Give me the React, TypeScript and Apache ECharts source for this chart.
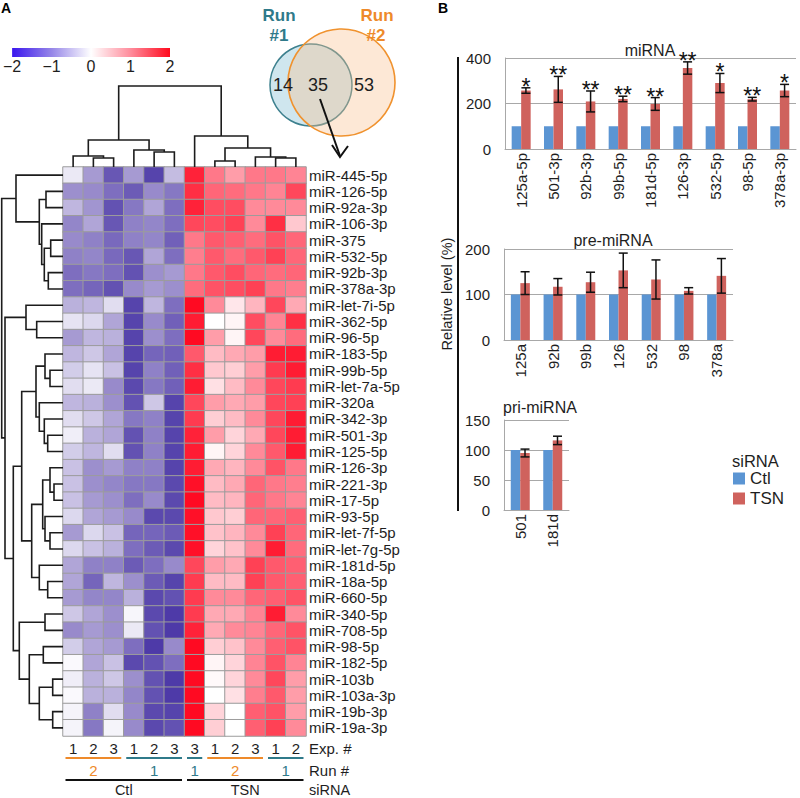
import React, { useEffect, useRef } from 'react';
import * as echarts from 'echarts';

// ---------------- Panel A data ----------------
const rowNames = [
  'miR-445-5p', 'miR-126-5p', 'miR-92a-3p', 'miR-106-3p', 'miR-375', 'miR-532-5p', 'miR-92b-3p',
  'miR-378a-3p', 'miR-let-7i-5p', 'miR-362-5p', 'miR-96-5p', 'miR-183-5p', 'miR-99b-5p',
  'miR-let-7a-5p', 'miR-320a', 'miR-342-3p', 'miR-501-3p', 'miR-125-5p', 'miR-126-3p',
  'miR-221-3p', 'miR-17-5p', 'miR-93-5p', 'miR-let-7f-5p', 'miR-let-7g-5p', 'miR-181d-5p',
  'miR-18a-5p', 'miR-660-5p', 'miR-340-5p', 'miR-708-5p', 'miR-98-5p', 'miR-182-5p',
  'miR-103b', 'miR-103a-3p', 'miR-19b-3p', 'miR-19a-3p',
];
const expLabels = ['1', '2', '3', '1', '2', '3', '3', '1', '2', '3', '1', '2'];

const heatValues: number[][] = [
  [-0.2, -0.9, -1.6, -0.9, -1.8, -0.6, 1.8, 1.1, 0.8, 1.1, 1.1, 1.0],
  [-1.0, -1.05, -1.35, -1.55, -1.05, -1.25, 1.7, 1.25, 1.2, 1.1, 1.0, 1.5],
  [-0.65, -0.95, -1.65, -1.25, -0.8, -1.35, 1.8, 1.45, 1.45, 0.95, 0.95, 0.95],
  [-1.1, -0.8, -1.6, -1.15, -1.1, -1.35, 1.5, 1.45, 1.55, 0.95, 1.7, 0.45],
  [-1.05, -1.15, -1.4, -1.15, -1.1, -1.5, 1.1, 1.35, 1.3, 1.2, 1.4, 1.25],
  [-1.15, -1.1, -1.4, -1.6, -0.8, -1.35, 1.05, 1.35, 1.2, 1.35, 1.55, 1.25],
  [-1.35, -1.25, -1.35, -1.65, -1.0, -0.9, 1.1, 1.35, 1.45, 1.25, 1.2, 1.25],
  [-1.35, -1.45, -1.65, -1.05, -0.9, -1.0, 1.2, 1.4, 1.45, 1.55, 1.1, 1.05],
  [-0.7, -0.65, -0.3, -1.8, -0.65, -1.35, 2.0, 0.95, 0.2, 0.6, 1.5, 0.7],
  [-0.25, -0.35, -0.8, -1.8, -1.05, -1.5, 1.85, 0.0, 0.08, 1.45, 1.0, 1.7],
  [-0.9, -0.65, -0.7, -1.8, -1.0, -1.35, 2.0, 0.8, 0.08, 1.5, 0.95, 1.2],
  [-0.65, -0.5, -0.8, -1.8, -1.45, -1.5, 1.35, 0.55, 0.7, 0.8, 1.85, 1.85],
  [-0.45, -0.25, -0.55, -1.8, -1.15, -1.5, 1.7, 0.45, 0.4, 0.8, 1.6, 1.85],
  [-0.3, -0.2, -1.05, -1.75, -1.25, -1.5, 1.85, 0.25, 0.55, 0.95, 1.5, 1.6],
  [-0.65, -0.7, -1.0, -1.65, -0.5, -1.8, 1.5, 0.8, 0.7, 0.8, 1.5, 1.55],
  [-0.3, -0.5, -0.8, -1.25, -1.15, -1.8, 1.6, 0.4, 0.55, 0.95, 1.5, 1.85],
  [-0.15, -0.7, -0.8, -1.65, -1.15, -1.8, 1.8, 0.8, 0.35, 0.7, 1.5, 1.85],
  [-0.45, -0.65, -0.3, -1.65, -1.15, -1.8, 1.85, 0.08, 0.35, 0.95, 1.35, 1.85],
  [-0.55, -1.0, -0.9, -1.15, -1.15, -1.8, 1.85, 0.7, 0.6, 0.95, 1.4, 1.1],
  [-0.55, -1.0, -1.1, -1.25, -1.25, -1.75, 1.95, 0.55, 0.7, 1.25, 1.1, 1.05],
  [-0.55, -0.9, -1.0, -1.35, -1.05, -1.75, 2.0, 0.55, 0.6, 1.25, 1.1, 1.0],
  [-0.35, -0.8, -0.9, -1.05, -1.75, -1.75, 1.95, 0.45, 0.4, 1.25, 1.25, 1.3],
  [-0.9, -0.35, -0.55, -1.45, -1.45, -1.55, 1.95, 0.5, 0.6, 0.95, 1.55, 1.25],
  [-0.35, -0.55, -0.7, -1.35, -1.55, -1.75, 1.95, 0.35, 0.5, 0.95, 1.85, 1.2],
  [-0.8, -1.15, -1.15, -1.55, -1.35, -1.05, 1.5, 0.8, 0.7, 1.55, 1.35, 1.3],
  [-0.8, -1.45, -0.65, -1.0, -1.55, -1.8, 1.6, 0.55, 0.55, 1.55, 1.35, 1.3],
  [-0.9, -1.1, -1.1, -0.7, -1.75, -1.65, 1.6, 0.95, 0.95, 1.25, 1.3, 1.4],
  [-0.5, -0.8, -1.0, -0.08, -1.75, -1.9, 1.6, 0.7, 0.7, 1.0, 1.85, 0.95],
  [-1.05, -0.9, -1.0, -0.2, -1.65, -1.9, 1.8, 0.7, 0.95, 1.0, 1.25, 1.4],
  [-0.45, -0.8, -0.9, -1.35, -1.9, -1.05, 2.0, 0.4, 0.5, 0.95, 1.3, 1.4],
  [-0.05, -0.8, -0.55, -1.75, -1.65, -1.35, 2.0, 0.08, 0.35, 1.0, 1.4, 1.0],
  [-0.15, -0.7, -0.5, -1.0, -1.65, -1.9, 2.0, 0.05, 0.35, 0.95, 1.5, 0.8],
  [-0.05, -0.7, -0.7, -1.1, -1.65, -1.9, 2.0, 0.0, 0.25, 1.05, 1.35, 0.8],
  [-0.1, -1.15, -0.3, -1.05, -1.75, -1.8, 2.0, 0.35, 0.0, 1.3, 1.4, 0.8],
  [-0.1, -1.25, -0.1, -1.05, -1.75, -1.65, 2.0, 0.4, 0.0, 1.3, 1.55, 0.95],
];

// linkage: [childA, childB, height]; leaves 0..n-1, merged node k -> n+k
const colLinkage = [
  [1, 2, 0.9], [0, 12, 1.1], [4, 5, 1.5], [3, 14, 1.7], [13, 15, 2.7],
  [7, 8, 0.6], [10, 11, 0.9], [9, 18, 1.0], [17, 19, 1.9], [6, 20, 3.1], [16, 21, 8.1],
];
const rowLinkage = [
  [1, 2, 1.7], [4, 5, 1.23], [6, 7, 1.47], [36, 37, 1.87], [3, 38, 2.13], [35, 39, 2.37],
  [0, 40, 4.7], [9, 10, 2.63], [8, 42, 3.7], [12, 13, 1.3], [11, 44, 1.8], [16, 17, 1.53],
  [15, 46, 1.87], [14, 47, 2.37], [45, 48, 2.7], [19, 20, 0.9], [18, 50, 1.3], [22, 23, 1.3],
  [21, 52, 1.8], [51, 53, 2.03], [25, 26, 1.53], [24, 55, 2.37], [54, 56, 3.13], [49, 57, 4.13],
  [27, 28, 1.8], [29, 30, 1.97], [31, 32, 1.03], [33, 34, 1.03], [61, 62, 2.37], [60, 63, 3.37],
  [59, 64, 4.37], [58, 65, 4.97], [43, 66, 5.8], [41, 67, 6.13],
];

const heatColors = ['#4531a4', '#9c8fcd', '#ffffff', '#ff8494', '#ff0a22'];
const colorBarColors = ['#3a16ee', '#9686e8', '#ffffff', '#ff8c9c', '#ff0a1e'];
const colorBarTicks = [-2, -1, 0, 1, 2];

const runGroups = [[0, 2, 2], [3, 5, 1], [6, 6, 1], [7, 9, 2], [10, 11, 1]];
const sirnaNames = ['Ctl', 'TSN'];
const sirnaGroups = [[0, 5, 0], [6, 11, 1]];

const vennCounts = [14, 35, 53];

// ---------------- Panel B data ----------------
const miCats = ['125a-5p', '501-3p', '92b-3p', '99b-5p', '181d-5p', '126-3p', '532-5p', '98-5p', '378a-3p'];
const miCtl = [100, 100, 100, 100, 100, 100, 100, 100, 100];
const miTsn = [257, 262, 209, 220, 198, 356, 290, 219, 257];
const miErr = [12, 57, 46, 12, 28, 27, 42, 8, 27];
const miSig = ['*', '**', '**', '**', '**', '**', '*', '**', '*'];

const preCats = ['125a', '92b', '99b', '126', '532', '98', '378a'];
const preCtl = [100, 100, 100, 100, 100, 100, 100];
const preTsn = [125, 117, 127, 153, 133, 108, 141];
const preErr = [25, 18, 22, 38, 43, 7, 38];

const priCats = ['501', '181d'];
const priCtl = [100, 100];
const priTsn = [95, 116];
const priErr = [6.5, 7];

// ---------------- styles ----------------
const FONT = '"Liberation Sans", Arial, Helvetica, sans-serif';
const TEAL = '#2f7a8a';
const ORANGE = '#ee8a2a';
const CTL_COLOR = '#5b95d3';
const TSN_COLOR = '#cf625d';
const GRID_GRAY = '#a8a8a8';
const BAR_W = 9.5;
const TXT = '#1e1e1e';

function buildSegments(linkage: number[][], n: number) {
  const pos: number[] = [];
  const ht: number[] = [];
  for (let i = 0; i < n; i++) { pos.push(i + 0.5); ht.push(0); }
  const segs: number[][] = [];
  linkage.forEach(([a, b, h]) => {
    segs.push([pos[a], ht[a], pos[b], ht[b], h]);
    pos.push((pos[a] + pos[b]) / 2);
    ht.push(h);
  });
  return segs;
}

export default function App() {
  const ref = useRef<HTMLDivElement>(null);

  useEffect(() => {
    if (!ref.current) return;
    const chart = echarts.init(ref.current, null, { renderer: 'svg' });

    const heatData: number[][] = [];
    heatValues.forEach((row, r) => row.forEach((v, c) => heatData.push([c, r, v])));
    const colSegs = buildSegments(colLinkage, expLabels.length);
    const rowSegs = buildSegments(rowLinkage, rowNames.length);
    const nRows = rowNames.length;

    const dendroStyle = { stroke: '#1c1c1c', lineWidth: 1.6, fill: 'none' };

    const groupRender = (kind: 'run' | 'sirna') => (params: any, api: any) => {
      const from = api.value(0);
      const to = api.value(1);
      const k = api.value(2);
      const size = api.size([1, 1]);
      const w = size[0];
      const h = size[1];
      const x0 = api.coord([from, 0])[0] - w / 2 + 2.5;
      const x1 = api.coord([to, 0])[0] + w / 2 - 2.5;
      const yb = api.coord([0, nRows - 1])[1] + h / 2;
      const color = kind === 'run' ? (k === 1 ? TEAL : ORANGE) : '#111';
      const lineY = kind === 'run' ? yb + 22 : yb + 44;
      const textY = kind === 'run' ? yb + 34 : yb + 54;
      const text = kind === 'run' ? String(k) : sirnaNames[k];
      return {
        type: 'group',
        children: [
          { type: 'line', shape: { x1: x0, y1: lineY, x2: x1, y2: lineY }, style: { stroke: color, lineWidth: 2 } },
          {
            type: 'text',
            style: {
              text, x: (x0 + x1) / 2, y: textY, align: 'center', verticalAlign: 'middle',
              textAlign: 'center', textVerticalAlign: 'middle', fill: kind === 'run' ? color : TXT,
              font: `${kind === 'run' ? 15 : 14.5}px ${FONT}`,
            },
          },
        ],
      };
    };

    const errRender = (stars: string[] | null) => (params: any, api: any) => {
      const i = api.value(0);
      const m = api.value(1);
      const e = api.value(2);
      const xc = api.coord([i, m])[0] + BAR_W / 2;
      const yt = api.coord([i, m + e])[1];
      const yb = api.coord([i, m - e])[1];
      const st = { stroke: '#111', lineWidth: 1.5 };
      const children: any[] = [
        { type: 'line', shape: { x1: xc, y1: yt, x2: xc, y2: yb }, style: st },
        { type: 'line', shape: { x1: xc - 4.5, y1: yt, x2: xc + 4.5, y2: yt }, style: st },
        { type: 'line', shape: { x1: xc - 4.5, y1: yb, x2: xc + 4.5, y2: yb }, style: st },
      ];
      if (stars) {
        children.push({
          type: 'text',
          style: {
            text: stars[params.dataIndex], x: xc, y: yt - 1, align: 'center', verticalAlign: 'middle',
            textAlign: 'center', textVerticalAlign: 'middle', fill: '#111', font: `23px ${FONT}`,
          },
        });
      }
      return { type: 'group', children };
    };

    const barX = (cats: string[], idx: number) => ({
      type: 'category', gridIndex: idx, data: cats,
      axisLine: { show: true, lineStyle: { color: GRID_GRAY, width: 1 } },
      axisTick: { show: false },
      axisLabel: { rotate: 90, fontSize: 15, color: TXT, margin: 4, interval: 0, fontFamily: FONT },
    });
    const barY = (idx: number, max: number, interval: number) => ({
      type: 'value', gridIndex: idx, min: 0, max, interval,
      axisLine: { show: true, lineStyle: { color: GRID_GRAY, width: 1 } },
      axisTick: { show: false },
      splitLine: { show: true, lineStyle: { color: GRID_GRAY, width: 1 } },
      axisLabel: { fontSize: 15, color: TXT, margin: 14, fontFamily: FONT },
    });
    const barSeries = (idx: number, ctl: number[], tsn: number[], err: number[], stars: string[] | null) => [
      { type: 'bar', name: 'Ctl', xAxisIndex: idx, yAxisIndex: idx, data: ctl, barWidth: BAR_W, barGap: '0%', itemStyle: { color: CTL_COLOR } },
      { type: 'bar', name: 'TSN', xAxisIndex: idx, yAxisIndex: idx, data: tsn, barWidth: BAR_W, barGap: '0%', itemStyle: { color: TSN_COLOR } },
      {
        type: 'custom', xAxisIndex: idx, yAxisIndex: idx, z: 10, clip: false,
        data: tsn.map((v, i) => [i, v, err[i]]), renderItem: errRender(stars),
      },
    ];

    const hidden = { show: false };
    const txt = (text: string, x: number, y: number, size: number, fill = TXT, weight = 'normal', align = 'center') => ({
      type: 'text',
      style: {
        text, x, y, fill, font: `${weight} ${size}px ${FONT}`,
        align, verticalAlign: 'middle', textAlign: align, textVerticalAlign: 'middle',
      },
    });

    const option: any = {
      animation: false,
      textStyle: { fontFamily: FONT },
      grid: [
        { left: 63, top: 167, width: 243, height: 569 },
        { left: 63, top: 86, width: 243, height: 81 },
        { left: 0, top: 167, width: 63, height: 569 },
        { left: 8, top: 48, width: 162, height: 9 },
        { left: 505, top: 58, width: 291, height: 91 },
        { left: 504, top: 249, width: 229, height: 91 },
        { left: 504, top: 420, width: 65, height: 90 },
      ],
      xAxis: [
        {
          type: 'category', gridIndex: 0, data: expLabels.map((_, i) => 'c' + i),
          axisLine: hidden, axisTick: hidden, splitLine: hidden,
          axisLabel: { interval: 0, fontSize: 15, color: TXT, margin: 5, formatter: (_v: string, i: number) => expLabels[i] },
        },
        { type: 'value', gridIndex: 1, min: 0, max: expLabels.length, show: false },
        { type: 'value', gridIndex: 2, min: 0, max: 6.3, inverse: true, show: false },
        {
          type: 'value', gridIndex: 3, min: colorBarTicks[0], max: colorBarTicks[colorBarTicks.length - 1], interval: 1,
          axisLine: hidden, axisTick: hidden, splitLine: hidden,
          axisLabel: { fontSize: 16, color: TXT, margin: 1, formatter: (v: number) => String(v).replace('-', '\u2212') },
        },
        barX(miCats, 4),
        barX(preCats, 5),
        barX(priCats, 6),
      ],
      yAxis: [
        {
          type: 'category', gridIndex: 0, data: rowNames, inverse: true, position: 'right',
          axisLine: hidden, axisTick: hidden, splitLine: hidden,
          axisLabel: { interval: 0, fontSize: 15, color: TXT, margin: 3 },
        },
        { type: 'value', gridIndex: 1, min: 0, max: 8.1, show: false },
        { type: 'value', gridIndex: 2, min: 0, max: nRows, inverse: true, show: false },
        { type: 'value', gridIndex: 3, min: 0, max: 1, show: false },
        barY(4, 400, 200),
        barY(5, 200, 100),
        barY(6, 150, 50),
      ],
      visualMap: [
        { type: 'continuous', min: -2, max: 2, seriesIndex: 0, show: false, inRange: { color: heatColors } },
      ],
      legend: {
        data: ['Ctl', 'TSN'], orient: 'vertical', left: 733, top: 470, padding: 0,
        itemWidth: 12, itemHeight: 12, itemGap: 3, icon: 'rect',
        textStyle: { fontSize: 17, color: TXT, fontFamily: FONT },
        selectedMode: false,
      },
      series: [
        {
          type: 'heatmap', xAxisIndex: 0, yAxisIndex: 0, data: heatData,
          itemStyle: { borderColor: '#9c9c9c', borderWidth: 1 },
          emphasis: { disabled: true }, progressive: 0,
        },
        {
          type: 'custom', xAxisIndex: 1, yAxisIndex: 1, data: colSegs, clip: false,
          renderItem: (_p: any, api: any) => {
            const pa = api.value(0), ha = api.value(1), pb = api.value(2), hb = api.value(3), h = api.value(4);
            return {
              type: 'polyline',
              shape: { points: [api.coord([pa, ha]), api.coord([pa, h]), api.coord([pb, h]), api.coord([pb, hb])] },
              style: dendroStyle,
            };
          },
        },
        {
          type: 'custom', xAxisIndex: 2, yAxisIndex: 2, data: rowSegs, clip: false,
          renderItem: (_p: any, api: any) => {
            const pa = api.value(0), ha = api.value(1), pb = api.value(2), hb = api.value(3), h = api.value(4);
            return {
              type: 'polyline',
              shape: { points: [api.coord([ha, pa]), api.coord([h, pa]), api.coord([h, pb]), api.coord([hb, pb])] },
              style: dendroStyle,
            };
          },
        },
        {
          type: 'custom', xAxisIndex: 3, yAxisIndex: 3,
          data: [[colorBarTicks[0], 0, colorBarTicks[colorBarTicks.length - 1], 1]],
          renderItem: (_p: any, api: any) => {
            const p0 = api.coord([api.value(0), api.value(1)]);
            const p1 = api.coord([api.value(2), api.value(3)]);
            return {
              type: 'rect',
              shape: { x: p0[0], y: p1[1], width: p1[0] - p0[0], height: p0[1] - p1[1] },
              style: {
                fill: new echarts.graphic.LinearGradient(0, 0, 1, 0,
                  colorBarColors.map((c, i) => ({ offset: i / (colorBarColors.length - 1), color: c }))),
              },
            };
          },
        },
        { type: 'custom', xAxisIndex: 0, yAxisIndex: 0, data: runGroups, clip: false, renderItem: groupRender('run') },
        { type: 'custom', xAxisIndex: 0, yAxisIndex: 0, data: sirnaGroups, clip: false, renderItem: groupRender('sirna') },
        ...barSeries(4, miCtl, miTsn, miErr, miSig),
        ...barSeries(5, preCtl, preTsn, preErr, null),
        ...barSeries(6, priCtl, priTsn, priErr, null),
      ],
      graphic: [
        txt('A', 1, 8, 14, '#000', 'bold', 'left'),
        txt('B', 438, 8, 14, '#000', 'bold', 'left'),
        // Venn diagram
        { type: 'circle', shape: { cx: 311, cy: 85, r: 41 }, style: { fill: '#cfe6ee', stroke: '#3d808e', lineWidth: 1.5 } },
        { type: 'circle', shape: { cx: 341.5, cy: 82.5, r: 53.5 }, style: { fill: 'rgba(250,190,140,0.36)', stroke: '#f0922e', lineWidth: 1.6 } },
        txt('Run', 279, 15, 17, TEAL, 'bold'),
        txt('#1', 279, 35, 17, TEAL, 'bold'),
        txt('Run', 377, 15, 17, ORANGE, 'bold'),
        txt('#2', 376, 35, 17, ORANGE, 'bold'),
        txt(String(vennCounts[0]), 283, 85, 18),
        txt(String(vennCounts[1]), 318, 85, 18),
        txt(String(vennCounts[2]), 364, 85, 18),
        { type: 'line', shape: { x1: 320, y1: 99, x2: 340, y2: 156 }, style: { stroke: '#111', lineWidth: 2 } },
        { type: 'polyline', shape: { points: [[332, 145], [340, 157], [348, 146]] }, style: { stroke: '#111', lineWidth: 2, fill: 'none' } },
        // heatmap annotation labels
        txt('Exp. #', 309, 748, 15, TXT, 'normal', 'left'),
        txt('Run #', 309, 770, 15, TXT, 'normal', 'left'),
        txt('siRNA', 309, 790, 14.5, TXT, 'normal', 'left'),
        // panel B
        txt('miRNA', 650, 50, 16),
        txt('pre-miRNA', 613, 240, 16),
        txt('pri-miRNA', 540, 407, 16),
        { type: 'line', shape: { x1: 458, y1: 57, x2: 458, y2: 511 }, style: { stroke: '#111', lineWidth: 2 } },
        {
          type: 'text', x: 447, y: 294, rotation: Math.PI / 2,
          style: {
            text: 'Relative level (%)', x: 0, y: 0, fill: TXT, font: `14.5px ${FONT}`,
            align: 'center', verticalAlign: 'middle', textAlign: 'center', textVerticalAlign: 'middle',
          },
        },
        txt('siRNA', 732, 461, 16.5, TXT, 'normal', 'left'),
      ],
    };

    chart.setOption(option);
    return () => chart.dispose();
  }, []);

  return (
    <div
      ref={ref}
      style={{ position: 'absolute', left: 0, top: 0, width: 800, height: 798, background: '#fff' }}
    />
  );
}
